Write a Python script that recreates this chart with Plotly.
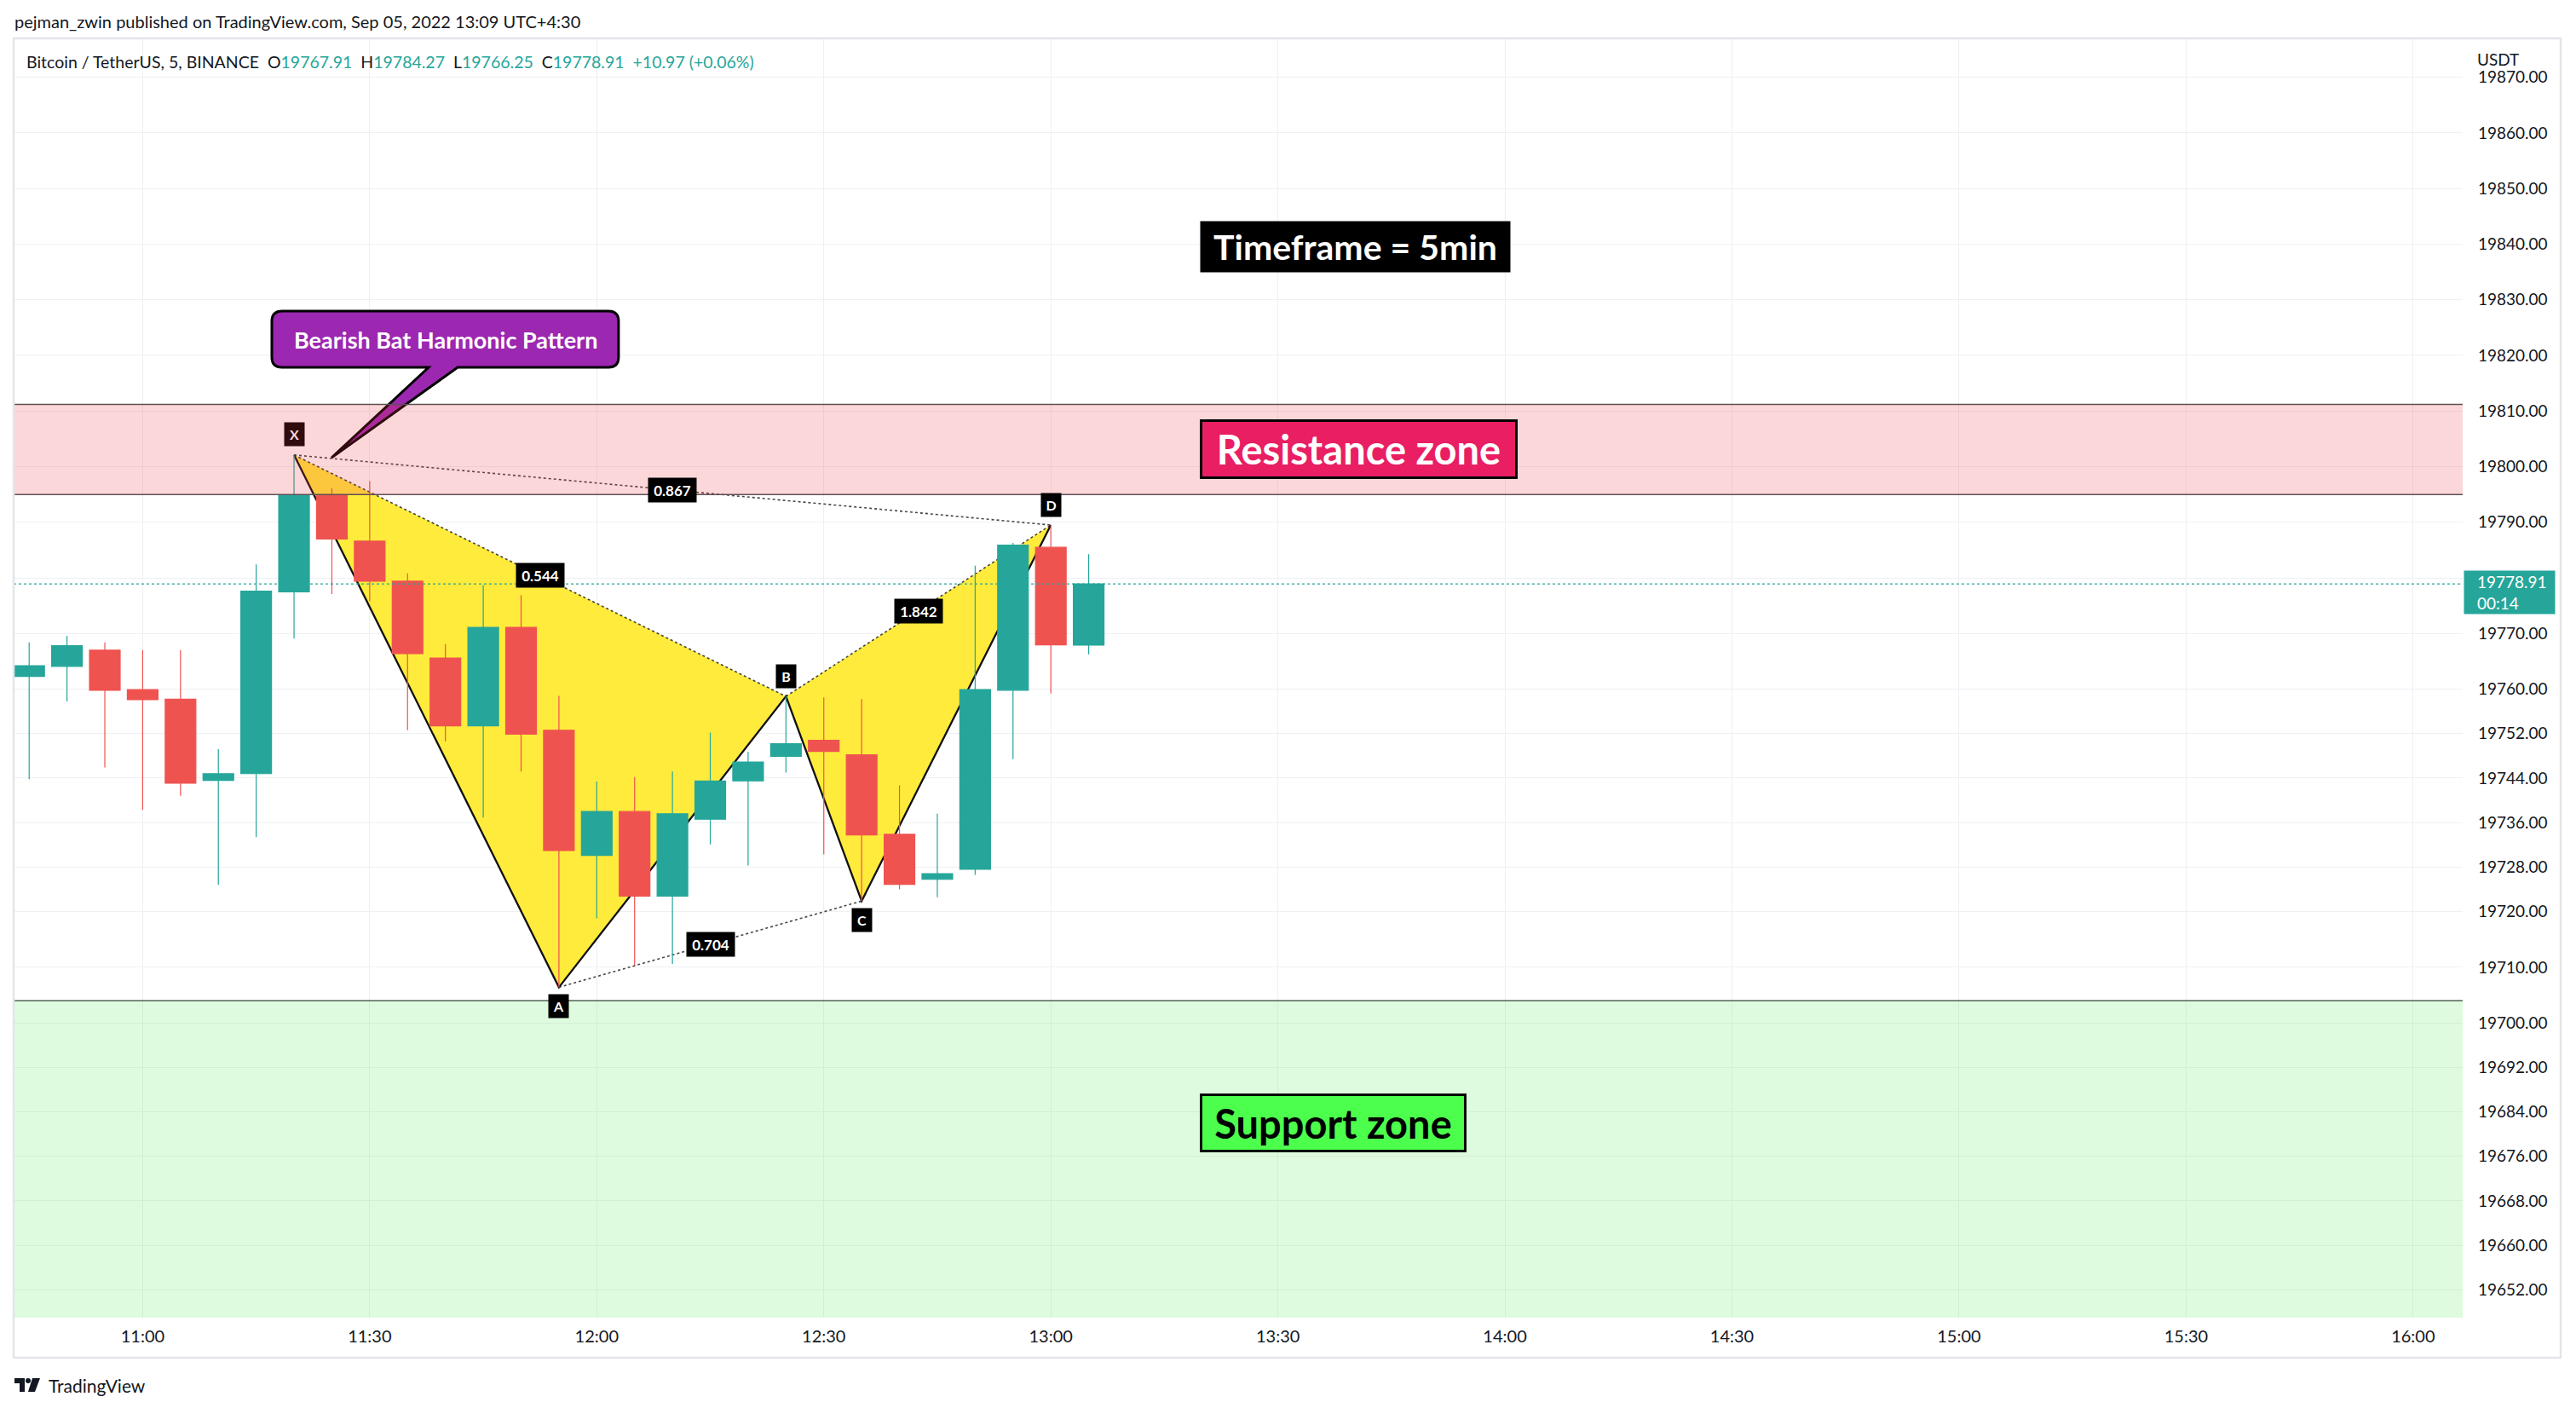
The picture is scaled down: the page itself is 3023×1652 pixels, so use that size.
import pandas as pd
import plotly.graph_objects as go

# ---------------- data ----------------
times = pd.date_range("2022-09-05 10:45", periods=29, freq="5min")
opens = [19762.3, 19764.1, 19767.0, 19759.9, 19758.2, 19743.6, 19744.8, 19777.5, 19794.9, 19786.6,
         19779.4, 19765.6, 19753.4, 19771.1, 19752.6, 19730.1, 19738.0, 19722.8, 19736.6, 19743.5,
         19747.9, 19750.8, 19748.2, 19733.9, 19725.8, 19727.6, 19759.8, 19785.5, 19767.91]
highs = [19768.4, 19769.6, 19768.4, 19767.0, 19767.0, 19749.2, 19782.4, 19802.1, 19796.1, 19797.4,
         19780.8, 19768.1, 19778.7, 19776.9, 19758.8, 19743.4, 19744.2, 19745.2, 19752.2, 19748.7,
         19758.7, 19758.5, 19758.2, 19742.7, 19737.6, 19782.2, 19786.3, 19789.5, 19784.27]
lows = [19743.8, 19757.8, 19745.9, 19738.3, 19740.8, 19724.8, 19733.4, 19769.1, 19777.1, 19775.8,
        19752.6, 19750.6, 19736.9, 19745.2, 19706.4, 19718.8, 19710.4, 19710.6, 19732.1, 19728.3,
        19745.0, 19730.3, 19721.9, 19724.0, 19722.6, 19726.6, 19747.4, 19759.2, 19766.25]
closes = [19764.2, 19767.8, 19759.8, 19758.1, 19743.1, 19744.8, 19777.6, 19794.9, 19787.0, 19779.4,
          19766.4, 19753.4, 19771.1, 19751.9, 19731.0, 19738.0, 19722.8, 19737.6, 19743.5, 19746.9,
          19750.2, 19748.8, 19733.8, 19724.9, 19726.8, 19759.9, 19785.9, 19767.94, 19778.91]

y_ticks = [19870, 19860, 19850, 19840, 19830, 19820, 19810, 19800, 19790, 19780, 19770, 19760,
           19752, 19744, 19736, 19728, 19720, 19710, 19700, 19692, 19684, 19676, 19668, 19660, 19652]

pt_names = ["X", "A", "B", "C", "D"]
pt_index = [7, 14, 20, 22, 27]
pt_is_high = [True, False, True, False, True]
ratio_pairs = [(0, 2), (1, 3), (2, 4), (0, 4)]
ratio_labels = ["0.544", "0.704", "1.842", "0.867"]

resistance_zone = (19795.0, 19811.2)
support_zone = (19600.0, 19704.0)

# ---------------- geometry (page pixels; the page body has an 8px margin) ----------------
OFF = 8
W, H = 3023 - OFF, 1652 - OFF
P_LEFT, P_RIGHT, P_TOP, P_BOTTOM = 16, 2890, 45, 1546
PW, PH = P_RIGHT - P_LEFT, P_BOTTOM - P_TOP
ML, MT = P_LEFT - OFF, P_TOP - OFF
MR, MB = W - ML - PW, H - MT - PH


def pxx(p):
    return (p - P_LEFT) / PW


def pxy(p):
    return (P_BOTTOM - p) / PH


TEAL = "#26a69a"
RED = "#ef5350"
YELLOW = "#ffeb3b"
TXT = "#131722"
GRID = "#eef0f4"

fig = go.Figure()

# candles
fig.add_trace(go.Candlestick(
    x=times, open=opens, high=highs, low=lows, close=closes,
    increasing=dict(line=dict(color=TEAL, width=1.2), fillcolor=TEAL),
    decreasing=dict(line=dict(color=RED, width=1.2), fillcolor=RED),
    whiskerwidth=0, hoverinfo="skip"))

# pattern points from data
pt_x = [times[i] for i in pt_index]
pt_y = [highs[i] if h else lows[i] for i, h in zip(pt_index, pt_is_high)]


def f(t):
    return pd.Timestamp(t).strftime("%Y-%m-%d_%H:%M:%S")


shapes = []

# filled triangles XAB and BCD (drawn under the candles)
for tri in [(0, 1, 2), (2, 3, 4)]:
    p = "M" + " L".join(f"{f(pt_x[k])},{pt_y[k]}" for k in tri) + " Z"
    shapes.append(dict(type="path", path=p, xref="x", yref="y", layer="between",
                       fillcolor=YELLOW, line=dict(width=0)))

# dotted connectors
for i, j in ratio_pairs:
    shapes.append(dict(type="line", xref="x", yref="y", x0=pt_x[i], y0=pt_y[i], x1=pt_x[j], y1=pt_y[j],
                       layer="between", line=dict(color="rgba(50,50,50,0.9)", width=1.6, dash="dot")))

# solid zigzag X-A-B-C-D
zz = "M" + " L".join(f"{f(x)},{y}" for x, y in zip(pt_x, pt_y))
shapes.append(dict(type="path", path=zz, xref="x", yref="y", layer="between",
                   fillcolor="rgba(0,0,0,0)", line=dict(color="#111111", width=2.3)))

# callout (rounded box + wedge) in data space
cx0 = pd.Timestamp("2022-09-05 11:17:04")
cx1 = pd.Timestamp("2022-09-05 12:02:53")
cy0, cy1 = 19817.85, 19827.96
wb0 = pd.Timestamp("2022-09-05 11:37:47")
wb1 = pd.Timestamp("2022-09-05 11:41:37")
tip_x = pd.Timestamp("2022-09-05 11:24:57")
tip_y = 19801.6
rx = pd.Timedelta(seconds=81)
ry = 1.84

path = (f"M{f(cx0 + rx)},{cy1} L{f(cx1 - rx)},{cy1} Q{f(cx1)},{cy1} {f(cx1)},{cy1 - ry} "
        f"L{f(cx1)},{cy0 + ry} Q{f(cx1)},{cy0} {f(cx1 - rx)},{cy0} "
        f"L{f(wb1)},{cy0} L{f(tip_x)},{tip_y} L{f(wb0)},{cy0} "
        f"L{f(cx0 + rx)},{cy0} Q{f(cx0)},{cy0} {f(cx0)},{cy0 + ry} "
        f"L{f(cx0)},{cy1 - ry} Q{f(cx0)},{cy1} {f(cx0 + rx)},{cy1} Z")
shapes.append(dict(type="path", path=path, xref="x", yref="y", layer="between",
                   fillcolor="#9c27b0", line=dict(color="#000000", width=3)))

# zones
shapes.append(dict(type="rect", xref="paper", yref="y", x0=0, x1=1,
                   y0=resistance_zone[0], y1=resistance_zone[1],
                   fillcolor="rgba(242,54,69,0.2)", line=dict(width=0), layer="above"))
for yv in resistance_zone:
    shapes.append(dict(type="line", xref="paper", yref="y", x0=0, x1=1, y0=yv, y1=yv,
                       line=dict(color="#5e5054", width=1.5), layer="above"))
shapes.append(dict(type="rect", xref="paper", yref="y", x0=0, x1=1,
                   y0=support_zone[0], y1=support_zone[1],
                   fillcolor="rgba(76,235,76,0.18)", line=dict(width=0), layer="above"))
shapes.append(dict(type="line", xref="paper", yref="y", x0=0, x1=1,
                   y0=support_zone[1], y1=support_zone[1],
                   line=dict(color="#56625a", width=1.5), layer="above"))

# current price line
last_close = closes[-1]
shapes.append(dict(type="line", xref="paper", yref="y", x0=0, x1=1, y0=last_close, y1=last_close,
                   line=dict(color=TEAL, width=1.3, dash="dot"), layer="above"))

# panel border
shapes.append(dict(type="rect", xref="paper", yref="paper", x0=pxx(16), x1=pxx(3005),
                   y0=pxy(1593), y1=pxy(45), line=dict(color="#e3e5ea", width=2.5),
                   fillcolor="rgba(0,0,0,0)", layer="above"))

# TradingView logo
shapes.append(dict(type="rect", xref="paper", yref="paper", x0=pxx(17), x1=pxx(29),
                   y0=pxy(1623), y1=pxy(1617), fillcolor="#131722", line=dict(width=0)))
shapes.append(dict(type="rect", xref="paper", yref="paper", x0=pxx(23), x1=pxx(29),
                   y0=pxy(1633), y1=pxy(1617), fillcolor="#131722", line=dict(width=0)))
shapes.append(dict(type="circle", xref="paper", yref="paper", x0=pxx(30), x1=pxx(36),
                   y0=pxy(1623), y1=pxy(1617), fillcolor="#131722", line=dict(width=0)))
shapes.append(dict(type="path", xref="paper", yref="paper",
                   path=f"M{pxx(38)},{pxy(1617)} L{pxx(47)},{pxy(1617)} L{pxx(41)},{pxy(1633)} "
                        f"L{pxx(33)},{pxy(1633)} Z",
                   fillcolor="#131722", line=dict(width=0)))

ann = []

# published line & header
ann.append(dict(xref="paper", yref="paper", x=pxx(15), y=pxy(25), xanchor="left", yanchor="middle",
                text="pejman_zwin published on TradingView.com, Sep 05, 2022 13:09 UTC+4:30",
                showarrow=False, font=dict(size=20, color=TXT)))
o, h, l, c = opens[-1], highs[-1], lows[-1], closes[-1]
chg = c - closes[-2]
pct = chg / closes[-2] * 100
sp = "\u00a0\u00a0"


def tv(v):
    return f"<span style='color:{TEAL}'>{v}</span>"


header = (f"Bitcoin / TetherUS, 5, BINANCE{sp}O{tv(f'{o:.2f}')}{sp}H{tv(f'{h:.2f}')}"
          f"{sp}L{tv(f'{l:.2f}')}{sp}C{tv(f'{c:.2f}')}{sp}{tv(f'{chg:+.2f} ({pct:+.2f}%)')}")
ann.append(dict(xref="paper", yref="paper", x=pxx(29), y=pxy(72), xanchor="left", yanchor="middle",
                text=header, showarrow=False, font=dict(size=19.5, color=TXT)))

ann.append(dict(xref="paper", yref="paper", x=pxx(2905), y=pxy(70), xanchor="left", yanchor="middle",
                text="USDT", showarrow=False, font=dict(size=19, color=TXT), bgcolor="#ffffff",
                borderpad=1))

# price label on axis
ann.append(dict(xref="paper", yref="y", x=pxx(2891), y=last_close, xanchor="left", yanchor="top",
                yshift=16, text=" ", showarrow=False, bgcolor=TEAL, width=106, height=50, borderpad=0))
ann.append(dict(xref="paper", yref="y", x=pxx(2906), y=last_close, xanchor="left", yanchor="top",
                yshift=16, text=f"{last_close:.2f}<br>00:14", align="left", showarrow=False,
                font=dict(size=19, color="#ffffff"), height=50, valign="middle", borderpad=0))

# boxes
box_left = "2022-09-05 13:19:40"
ann.append(dict(x=box_left, y=19839.53, xanchor="left", yanchor="middle", text="Timeframe = 5min",
                showarrow=False, bgcolor="#000000", width=363, height=59, borderpad=0,
                font=dict(size=41, color="#ffffff", weight="bold")))
ann.append(dict(x=box_left, y=19803.14, xanchor="left", yanchor="middle", text="Resistance zone",
                showarrow=False, bgcolor="#e91e63", bordercolor="#000000", borderwidth=3,
                width=367, height=64, borderpad=0,
                font=dict(size=47, color="#ffffff", weight="bold")))
ann.append(dict(x=box_left, y=19682.0, xanchor="left", yanchor="middle", text="Support zone",
                showarrow=False, bgcolor="#4cff4c", bordercolor="#000000", borderwidth=3,
                width=307, height=63, borderpad=0,
                font=dict(size=47, color="#000000", weight="bold")))

# callout text
ann.append(dict(x="2022-09-05 11:40:00", y=(cy0 + cy1) / 2, xanchor="center", yanchor="middle",
                text="Bearish Bat Harmonic Pattern", showarrow=False,
                font=dict(size=27, color="#ffffff", weight="bold")))

# point labels
for name, x, y, hi in zip(pt_names, pt_x, pt_y, pt_is_high):
    inzone = resistance_zone[0] <= y + 3.5 <= resistance_zone[1]
    ann.append(dict(x=x, y=y, xanchor="center", yanchor="middle", yshift=24 if hi else -22,
                    text=name, showarrow=False,
                    bgcolor="#300b0e" if inzone else "#000000", width=19, height=23, borderpad=2,
                    font=dict(size=16, color="#fcd7da" if inzone else "#ffffff", weight="bold")))

# ratio labels at midpoints
for (i, j), lab in zip(ratio_pairs, ratio_labels):
    mx = pt_x[i] + (pt_x[j] - pt_x[i]) / 2
    my = (pt_y[i] + pt_y[j]) / 2
    ann.append(dict(x=mx, y=my, xanchor="center", yanchor="middle", text=lab, showarrow=False,
                    bgcolor="#000000", width=52, height=24, borderpad=2,
                    font=dict(size=17, color="#ffffff", weight="bold")))

# TradingView wordmark
ann.append(dict(xref="paper", yref="paper", x=pxx(55), y=pxy(1625), xanchor="left", yanchor="middle",
                text="TradingView", showarrow=False, font=dict(size=21, color=TXT)))

fig.update_layout(
    width=W, height=H,
    margin=dict(l=ML, r=MR, t=MT, b=MB),
    paper_bgcolor="#ffffff", plot_bgcolor="#ffffff",
    font=dict(family="Lato, Roboto, sans-serif", color=TXT),
    showlegend=False, hovermode=False,
    boxgap=0.19, boxgroupgap=0,
    shapes=shapes, annotations=ann,
    xaxis=dict(type="date", range=["2022-09-05 10:42:57", "2022-09-05 16:06:33"],
               rangeslider=dict(visible=False), tick0="2022-09-05 11:00", dtick=1800000,
               tickformat="%H:%M", showgrid=True, gridcolor=GRID, gridwidth=1,
               zeroline=False, showline=False, ticks="", ticklabelstandoff=8,
               tickfont=dict(size=20, color=TXT)),
    yaxis=dict(range=[19647.0, 19877.0], side="right", tickmode="array", tickvals=y_ticks,
               ticktext=[f"{v:.2f}" for v in y_ticks], showgrid=True, gridcolor=GRID, gridwidth=1,
               zeroline=False, showline=False, ticks="", ticklabelstandoff=17,
               tickfont=dict(size=19, color=TXT)),
)

fig.write_html("out.html")
